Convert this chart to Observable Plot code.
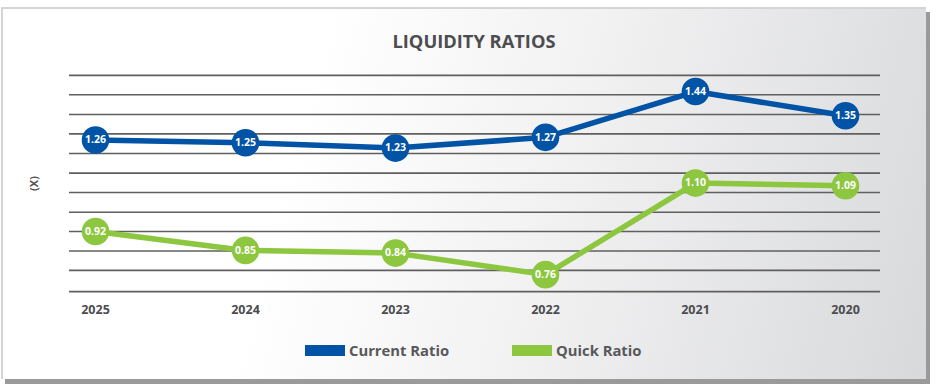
<!DOCTYPE html>
<html>
<head>
<meta charset="utf-8">
<script src="https://cdn.jsdelivr.net/npm/d3@7"></script>
<script src="https://cdn.jsdelivr.net/npm/@observablehq/plot@0.6"></script>
<style>
  html, body { margin: 0; padding: 0; background: #fff; width: 937px; height: 390px; overflow: hidden; font-family: "Open Sans", sans-serif; }
  #panel { position: absolute; left: 1px; top: 7px; width: 923px; height: 370px;
    border-top: 2px solid #d4d4d4; border-left: 2px solid #d4d4d4;
    background: linear-gradient(105deg, #ffffff 32%, #f1f1f2 60%, #d8d9db 100%);
    box-shadow: 4px 5px 0 #9a9a9a; }
  #chart { position: absolute; left: 0; top: 0; }
  #title { position: absolute; left: 0; width: 948px; top: 28px; text-align: center; font-weight: 700; font-size: 18.3px; color: #4d4d4f; }
  #ylab { position: absolute; left: 26px; top: 176px; transform: rotate(-90deg); font-weight: 700; font-size: 11px; color: #555; }
  .leg { position: absolute; top: 340px; font-weight: 700; font-size: 14.8px; color: #58585a; display: flex; align-items: center; }
  .sw { width: 40px; height: 11px; margin-right: 4px; }
</style>
</head>
<body>
<div id="panel"></div>
<div id="chart"></div>
<div id="title">LIQUIDITY RATIOS</div>
<div id="ylab">(X)</div>
<div class="leg" style="left:305px"><div class="sw" style="background:#0053a5"></div>Current Ratio</div>
<div class="leg" style="left:512px"><div class="sw" style="background:#8dc63f"></div>Quick Ratio</div>
<script>
const years = ["2025", "2024", "2023", "2022", "2021", "2020"];
const currentRatio = [1.26, 1.25, 1.23, 1.27, 1.44, 1.35];
const quickRatio = [0.92, 0.85, 0.84, 0.76, 1.10, 1.09];
const gridLevels = [1.5, 1.428, 1.355, 1.283, 1.21, 1.137, 1.065, 0.992, 0.92, 0.848, 0.776, 0.697];

const cur = years.map((y, i) => ({year: y, v: currentRatio[i]}));
const qk = years.map((y, i) => ({year: y, v: quickRatio[i]}));
const BLUE = "#0053a5", GREEN = "#8dc63f";

const chart = Plot.plot({
  width: 937,
  height: 390,
  marginLeft: 69,
  marginRight: 57,
  marginTop: 70,
  marginBottom: 99,
  style: {background: "transparent", fontFamily: "Open Sans, sans-serif"},
  x: {type: "point", domain: years, range: [93, 846], padding: 0, label: null},
  y: {domain: [0.7, 1.5], range: [290.3, 74.9], axis: null},
  marks: [
    Plot.ruleY(gridLevels, {stroke: "#5f5f5f", strokeWidth: 1.6}),
    Plot.axisX({tickSize: 0, tickPadding: 14, fontSize: 12.5, fontWeight: 700, fill: "#4d4d4f", label: null}),
    Plot.line(cur, {x: "year", y: "v", stroke: BLUE, strokeWidth: 5.5}),
    Plot.line(qk, {x: "year", y: "v", stroke: GREEN, strokeWidth: 5.5}),
    Plot.dot(cur, {x: "year", y: "v", r: 13.8, fill: BLUE}),
    Plot.dot(qk, {x: "year", y: "v", r: 13.8, fill: GREEN}),
    Plot.text(cur, {x: "year", y: "v", text: d => d.v.toFixed(2), fill: "white", fontSize: 10.5, fontWeight: 700}),
    Plot.text(qk, {x: "year", y: "v", text: d => d.v.toFixed(2), fill: "white", fontSize: 10.5, fontWeight: 700})
  ]
});
document.getElementById("chart").appendChild(chart);
</script>
</body>
</html>
